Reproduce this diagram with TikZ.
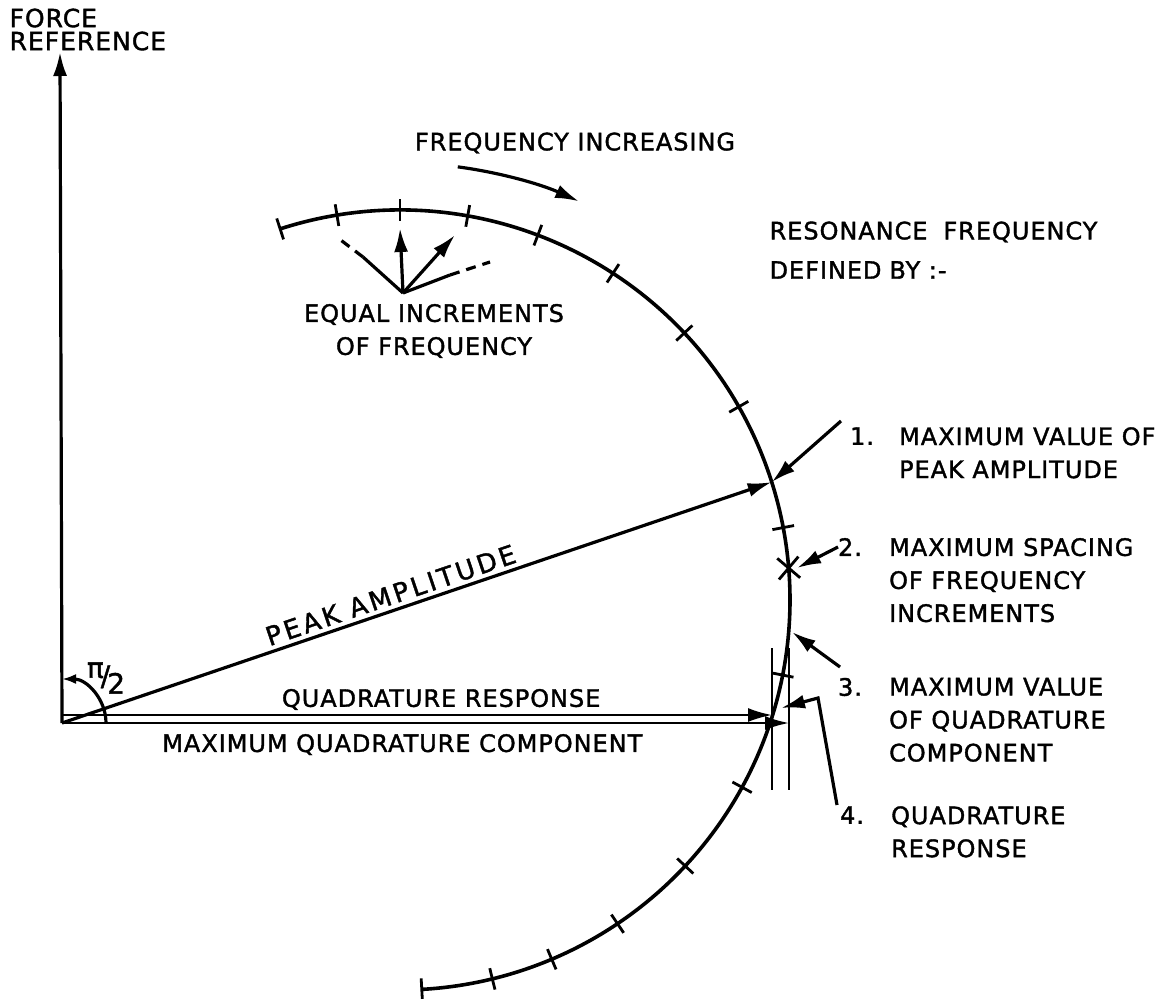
\documentclass[tikz,border=0pt]{standalone}
\usepackage{fontspec}
\setmainfont{DejaVu Sans}[LetterSpace=4,FakeBold=1.5]
\usetikzlibrary{positioning,arrows.meta}

\begin{document}
\begin{tikzpicture}[x=0.5pt,y=0.5pt,line width=1.6pt,>={Latex[length=12pt,width=7pt]},
    every node/.style={font=\fontsize{12}{16.5}\selectfont,inner sep=2pt},
    desc/.style={align=left,anchor=north west},
    tickmark/.style={line width=1.4pt},
    lightline/.style={line width=1.1pt}]
    \useasboundingbox (0,0) rectangle (1160,998);
    \coordinate (O) at (62,275);
    \coordinate (C) at (400,398);
    \coordinate (Top) at (60,946);
    \coordinate (QStart) at (62,283);
    \coordinate (Q) at (772,283);
    \coordinate (QMax) at (789,275);
    \path (C) ++(17.6:390) coordinate (P);
    \path (C) ++(4.7:390) coordinate (X);
    \node[align=left,anchor=north west,font=\fontsize{12.5}{11.5}\selectfont] (Force) at (4,995) {FORCE\\REFERENCE};
    \draw[->] (O) -- (Top);
    \draw[->,>={Latex[length=7pt,width=5pt]}] (O) ++(44,0) arc[start angle=0,end angle=90,radius=44];
    \node[font=\fontsize{14}{14}\selectfont] (Angle) at (106,320) {\raisebox{4pt}{π}\kern-1.5pt/\kern-1.5pt\raisebox{-4pt}{2}};
    \draw[line width=1.8pt] (C) ++(107.9:390) arc[start angle=107.9,end angle=-86.8,radius=390];
    \foreach \a in {107.9,99.3,90,80,69.3,56.9,43.2,29.7,10.7,-11.1,-28.7,-43.0,-56.1,-67.1,-76.3,-86.8}
        \draw[tickmark] (C) ++(\a:379) -- ++(\a:22);
    \draw[tickmark] (X) ++(49.7:15) -- ++(229.7:30);
    \draw[tickmark] (X) ++(-40.3:15) -- ++(139.7:30);
    \node (FreqInc) at (575,855) {FREQUENCY INCREASING};
    \draw[->] (C) ++(82.4:437) arc[start angle=82.4,end angle=65.8,radius=437];
    \coordinate (F) at (403,705);
    \coordinate (FanUp) at (400,770);
    \coordinate (FanDiag) at (455,763);
    \coordinate (FanLm) at (363,741);
    \coordinate (FanL) at (338,760);
    \coordinate (FanRm) at (450,723);
    \coordinate (FanR) at (490,736);
    \draw[->] (F) -- (FanUp);
    \draw[->] (F) -- (FanDiag);
    \draw (F) -- (FanLm);
    \draw[dash pattern=on 5pt off 3.5pt] (FanLm) -- (FanL);
    \draw (F) -- (FanRm);
    \draw[dash pattern=on 5pt off 3.5pt] (FanRm) -- (FanR);
    \node[align=center] (Equal) at (434,667) {EQUAL INCREMENTS\\OF FREQUENCY};
    \node[anchor=west] (Res) at (764,766) {RESONANCE\hspace{8pt}FREQUENCY};
    \node[anchor=west] (Def) at ([yshift=-19pt]Res.west) {DEFINED\hspace{4pt}BY :-};
    \draw[->] (O) -- node[above,sloped,pos=0.47,font=\fontsize{13}{13}\selectfont\addfontfeatures{LetterSpace=12}] (PeakLbl) {PEAK AMPLITUDE} (P);
    \draw[->,lightline] (QStart) -- node[above,pos=0.534] (QuadLbl) {QUADRATURE RESPONSE} (Q);
    \draw[->,lightline] (O) -- node[below=3pt,pos=0.468] (MaxLbl) {MAXIMUM QUADRATURE COMPONENT} (QMax);
    \coordinate (VLa) at (772,350);
    \coordinate (VLb) at (772,208);
    \coordinate (VRa) at (789,350);
    \coordinate (VRb) at (789,208);
    \draw[lightline] (VLa) -- (VLb);
    \draw[lightline] (VRa) -- (VRb);
    \node (One) at (862,562) {1.};
    \node[desc] (OneText) at ([xshift=7pt]One.north east) {MAXIMUM VALUE OF\\PEAK AMPLITUDE};
    \node (Two) at (850,451) {2.};
    \node[desc] (TwoText) at ([xshift=8pt]Two.north east) {MAXIMUM SPACING\\OF FREQUENCY\\INCREMENTS};
    \node (Three) at (850,311) {3.};
    \node[desc] (ThreeText) at ([xshift=8pt]Three.north east) {MAXIMUM VALUE\\OF QUADRATURE\\COMPONENT};
    \node (Four) at (852,183) {4.};
    \node[desc] (FourText) at ([xshift=8pt]Four.north east) {QUADRATURE\\RESPONSE};
    \coordinate (OneTail) at (841,577);
    \coordinate (TwoTail) at (838,451);
    \coordinate (TwoTip) at (797,430);
    \coordinate (ThreeTail) at (840,331);
    \coordinate (ThreeTip) at (792,366);
    \coordinate (FourTail) at (837,193);
    \coordinate (FourBend) at (818,300);
    \coordinate (FourTip) at (781,290);
    \draw[->] (OneTail) -- (P);
    \draw[->] (TwoTail) -- (TwoTip);
    \draw[->] (ThreeTail) -- (ThreeTip);
    \draw[->] (FourTail) -- (FourBend) -- (FourTip);
\end{tikzpicture}
\end{document}
